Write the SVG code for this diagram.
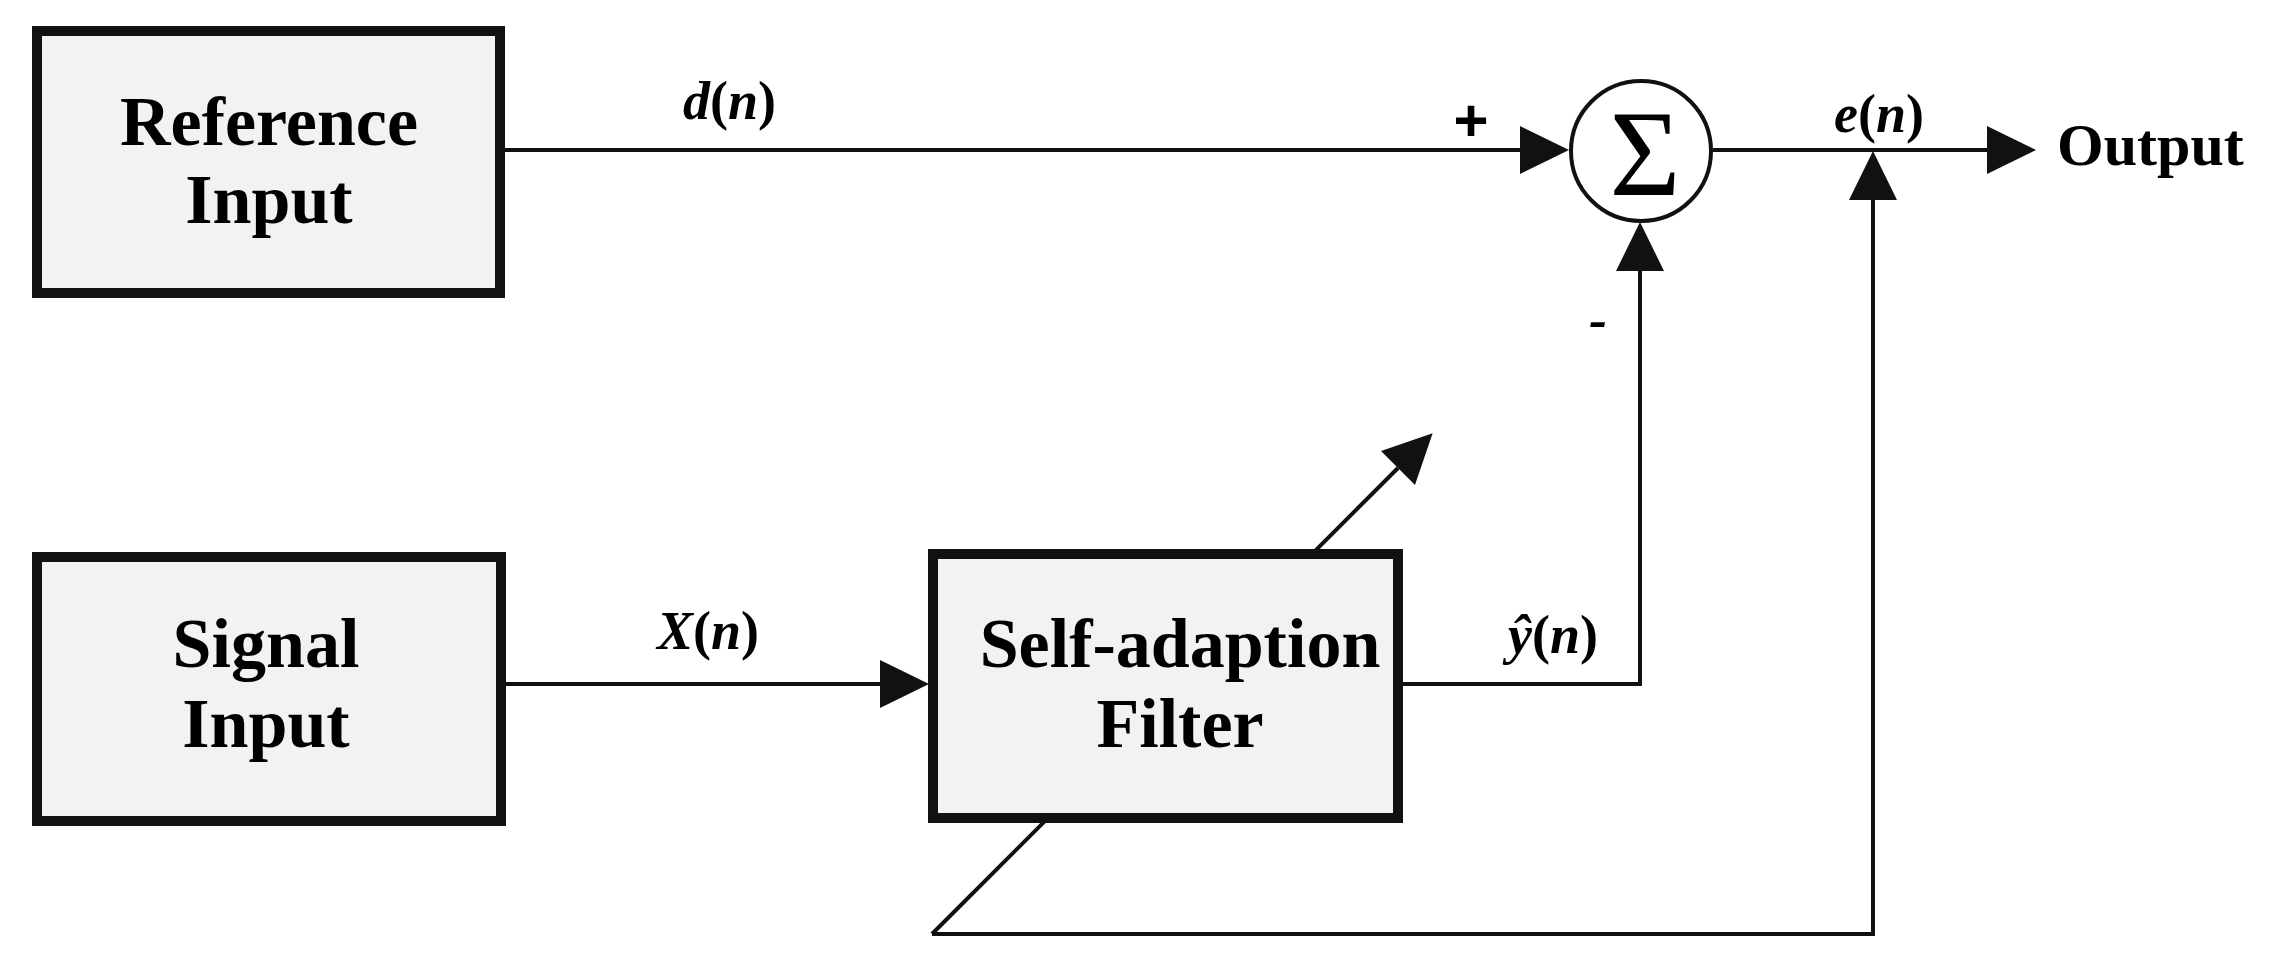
<svg xmlns="http://www.w3.org/2000/svg" width="2277" height="969" viewBox="0 0 2277 969">
<style>
.box{fill:#f2f2f2;stroke:#111;stroke-width:10}
.wire{fill:none;stroke:#111;stroke-width:4}
.lbl{font-family:"Liberation Serif",serif;font-weight:bold;fill:#000}
.big{font-size:70px;text-anchor:middle}
.math{font-size:54px}
.it{font-style:italic}
</style>
<defs>
<marker id="arr" markerUnits="userSpaceOnUse" markerWidth="49" markerHeight="48" viewBox="0 -24 49 48" refX="0" refY="0" orient="auto" overflow="visible">
<path d="M0,-24 L49,0 L0,24 Z" fill="#111"/>
</marker>
</defs>
<g id="connectors">
<path class="wire" d="M502,150 H1520" marker-end="url(#arr)"/>
<path class="wire" d="M1713,150 H1987" marker-end="url(#arr)"/>
<path class="wire" d="M504,684 H880" marker-end="url(#arr)"/>
<path class="wire" d="M1403,684 H1640 V271" marker-end="url(#arr)"/>
<path class="wire" d="M932,934 H1873 V200" marker-end="url(#arr)"/>
<path class="wire" d="M932,934 L1398,468" marker-end="url(#arr)"/>
</g>
<g id="reference-input">
<rect class="box" x="37" y="31" width="463" height="262"/>
<text class="lbl big" x="269" y="145">Reference</text>
<text class="lbl big" x="269" y="223">Input</text>
</g>
<g id="signal-input">
<rect class="box" x="37" y="557" width="464" height="264"/>
<text class="lbl big" x="266" y="667">Signal</text>
<text class="lbl big" x="266" y="747">Input</text>
</g>
<g id="filter">
<rect class="box" x="933" y="554" width="465" height="264"/>
<text class="lbl big" x="1180" y="667">Self-adaption</text>
<text class="lbl big" x="1180" y="747">Filter</text>
</g>
<g id="sum">
<circle cx="1641" cy="151" r="70" fill="#fff" stroke="#111" stroke-width="4"/>
<text x="1645" y="195" font-family="'Liberation Serif',serif" font-size="122" text-anchor="middle" fill="#000">Σ</text>
</g>
<g id="labels">
<text class="lbl math" x="683" y="119"><tspan class="it">d</tspan>(<tspan class="it">n</tspan>)</text>
<text class="lbl math" x="1834" y="132"><tspan class="it">e</tspan>(<tspan class="it">n</tspan>)</text>
<text class="lbl math" x="657" y="649"><tspan class="it">X</tspan>(<tspan class="it">n</tspan>)</text>
<text class="lbl math" x="1508" y="653"><tspan class="it">ŷ</tspan>(<tspan class="it">n</tspan>)</text>
<text x="1471" y="141" font-family="'Liberation Sans',sans-serif" font-weight="bold" font-size="60" text-anchor="middle" fill="#000">+</text>
<text class="lbl it" x="1598" y="338" font-size="54" text-anchor="middle">-</text>
<text class="lbl" x="2057" y="165" font-size="60">Output</text>
</g>
</svg>
